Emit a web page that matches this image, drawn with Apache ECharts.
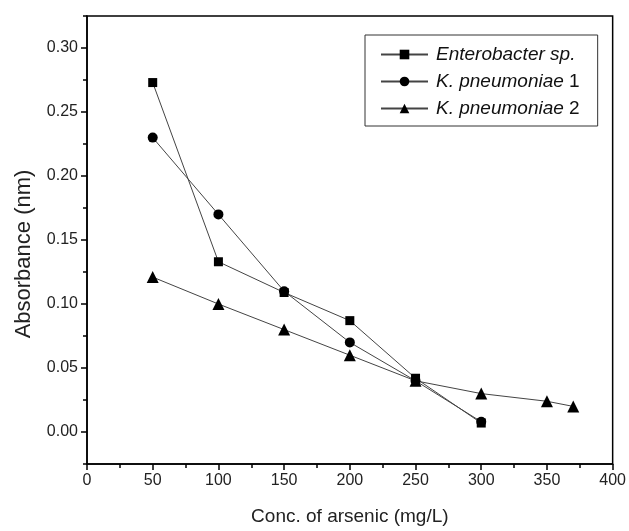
<!DOCTYPE html>
<html>
<head>
<meta charset="utf-8">
<script src="https://cdn.jsdelivr.net/npm/echarts@6/dist/echarts.min.js"></script>
<style>
    html, body { margin: 0; padding: 0; background: #fff; }
    #main { width: 629px; height: 531px; }
</style>
</head>
<body>
<div id="main"></div>
<script>
// data
var concEntero = [50, 100, 150, 200, 250, 300];
var absEntero = [0.273, 0.133, 0.109, 0.087, 0.042, 0.007];
var concKp1 = [50, 100, 150, 200, 250, 300];
var absKp1 = [0.230, 0.170, 0.110, 0.070, 0.040, 0.008];
var concKp2 = [50, 100, 150, 200, 250, 300, 350, 370];
var absKp2 = [0.121, 0.100, 0.080, 0.060, 0.040, 0.030, 0.024, 0.020];

function pairs(xs, ys) {
    var out = [];
    for (var i = 0; i < xs.length; i++) out.push([xs[i], ys[i]]);
    return out;
}

var myChart = echarts.init(document.getElementById('main'));
var font = 'Liberation Sans, Arial, sans-serif';

function lineSeries(name, symbol, size, data) {
    return {
        name: name,
        type: 'line',
        data: data,
        symbol: symbol,
        symbolSize: size,
        itemStyle: {color: '#000'},
        lineStyle: {color: '#444', width: 1},
        animation: false
    };
}

option = {
    backgroundColor: '#fff',
    textStyle: {fontFamily: font},
    grid: {
        left: 87, right: 16, top: 16, bottom: 67,
        show: true, borderColor: '#000', borderWidth: 1.5
    },
    legend: {
        left: 365, top: 35,
        orient: 'vertical',
        itemWidth: 47, itemHeight: 12, itemGap: 6,
        padding: [9, 18, 7, 15],
        borderColor: '#333', borderWidth: 1,
        data: ['Enterobacter sp.', 'K. pneumoniae 1', 'K. pneumoniae 2'],
        formatter: function (name) {
            if (name === 'Enterobacter sp.') return '{i|Enterobacter sp.}';
            return '{i|K. pneumoniae} ' + name.slice(-1);
        },
        textStyle: {
            fontSize: 19, lineHeight: 21, color: '#111', fontFamily: font,
            padding: [0, 0, 0, 3],
            rich: {i: {fontStyle: 'italic', fontSize: 19, lineHeight: 21, color: '#111', fontFamily: font}}
        }
    },
    xAxis: {
        type: 'value', min: 0, max: 400, interval: 50,
        name: 'Conc. of arsenic (mg/L)', nameLocation: 'middle', nameGap: 43,
        nameTextStyle: {fontSize: 19, color: '#222', fontFamily: font},
        axisLine: {onZero: false, lineStyle: {color: '#000', width: 1.5}},
        axisTick: {length: 6, lineStyle: {color: '#000', width: 1.5}},
        minorTick: {show: true, splitNumber: 2, length: 4, lineStyle: {color: '#000', width: 1.5}},
        axisLabel: {fontSize: 16, color: '#222', margin: 9, fontFamily: font},
        splitLine: {show: false}
    },
    yAxis: [{
        type: 'value', min: -0.025, max: 0.325,
        minInterval: 0.05, maxInterval: 0.05, splitNumber: 7,
        name: 'Absorbance (nm)', nameLocation: 'middle', nameGap: 52,
        nameTextStyle: {fontSize: 22, color: '#222', fontFamily: font, padding: [0, 28, 0, 0]},
        axisLine: {onZero: false, lineStyle: {color: '#000', width: 1.5}},
        axisTick: {length: 6, lineStyle: {color: '#000', width: 1.5}},
        axisLabel: {
            fontSize: 16, color: '#222', margin: 9, fontFamily: font,
            showMinLabel: false, showMaxLabel: false,
            formatter: function (v) { return v.toFixed(2); }
        },
        splitLine: {show: false}
    }, {
        // minor ticks, halfway between the labelled ones
        type: 'value', min: -0.025, max: 0.325, interval: 0.05,
        position: 'left',
        axisLine: {show: false, onZero: false},
        axisTick: {length: 4, lineStyle: {color: '#000', width: 1.5}},
        axisLabel: {show: false},
        splitLine: {show: false}
    }],
    series: [
        lineSeries('Enterobacter sp.', 'rect', 9, pairs(concEntero, absEntero)),
        lineSeries('K. pneumoniae 1', 'circle', 10, pairs(concKp1, absKp1)),
        lineSeries('K. pneumoniae 2', 'triangle', 12, pairs(concKp2, absKp2))
    ]
};

myChart.setOption(option);
</script>
</body>
</html>
